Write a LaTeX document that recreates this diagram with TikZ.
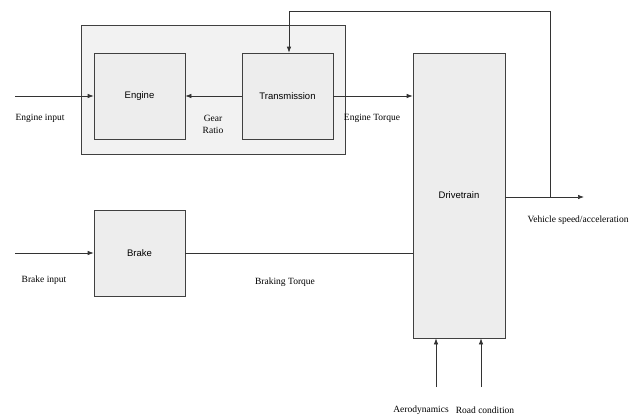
\documentclass[tikz,border=0pt]{standalone}
\usepackage{fontspec}
\setmainfont{Liberation Serif}
\setsansfont{Liberation Sans}
\usetikzlibrary{arrows.meta}
\begin{document}
\begin{tikzpicture}[x=1pt,y=-1pt,
  blk/.style={draw=black!75,line width=0.7pt,fill=black!7,inner sep=0pt,font=\sffamily\fontsize{9.5}{11}\selectfont},
  grp/.style={draw=black!75,line width=0.7pt,fill=black!5,inner sep=0pt},
  lbl/.style={font=\fontsize{9.5}{11}\selectfont,inner sep=0pt,align=center},
  wire/.style={draw=black!80,line width=0.7pt},
  arr/.style={wire,-{Latex[length=6pt,width=4.5pt]}}]
\useasboundingbox (0,0) rectangle (642,416);
% group
\node[grp,minimum width=264pt,minimum height=129pt] (grp) at (213,89.5) {};
% blocks
\node[blk,minimum width=91pt,minimum height=86pt] (en) at (139.5,96) {Engine};
\node[blk,minimum width=91pt,minimum height=86pt] (tr) at (287.5,96) {Transmission};
\node[blk,minimum width=91pt,minimum height=86pt] (br) at (139.5,253) {Brake};
\node[blk,minimum width=92pt,minimum height=285pt,text depth=0pt] (dt) at (459,195.5) {Drivetrain};
% free ends
\coordinate (ein) at (15,96);
\coordinate (bin) at (15,253);
\coordinate (fb) at (550,197);
\coordinate (top) at (550,11);
\coordinate (out) at (584,197);
\coordinate (aero) at (436,387);
\coordinate (road) at (481,387);
% connectors
\draw[arr] (ein) -- (en.west);
\draw[arr] (tr.west) -- (en.east);
\draw[arr] (tr.east) -- (tr.east -| dt.west);
\draw[arr] (bin) -- (br.west);
\draw[wire] (br.east) -- (br.east -| dt.west);
\draw[arr] (dt.east |- out) -- (out);
\draw[arr] (fb) -- (top) -| ([xshift=1.5pt]tr.north);
\draw[arr] (aero) -- (aero |- dt.south);
\draw[arr] (road) -- (road |- dt.south);
% labels
\node[lbl] (l1) at (40,118) {Engine input};
\node[lbl] (l2) at (213,124) {Gear\\[1pt]Ratio};
\node[lbl] (l3) at (372,118) {Engine Torque};
\node[lbl] (l4) at (578,220) {Vehicle speed/acceleration};
\node[lbl] (l5) at (44,280) {Brake input};
\node[lbl] (l6) at (285,282) {Braking Torque};
\node[lbl] (l7) at (421,410) {Aerodynamics};
\node[lbl] (l8) at (485,410) {Road condition};
\end{tikzpicture}
\end{document}
